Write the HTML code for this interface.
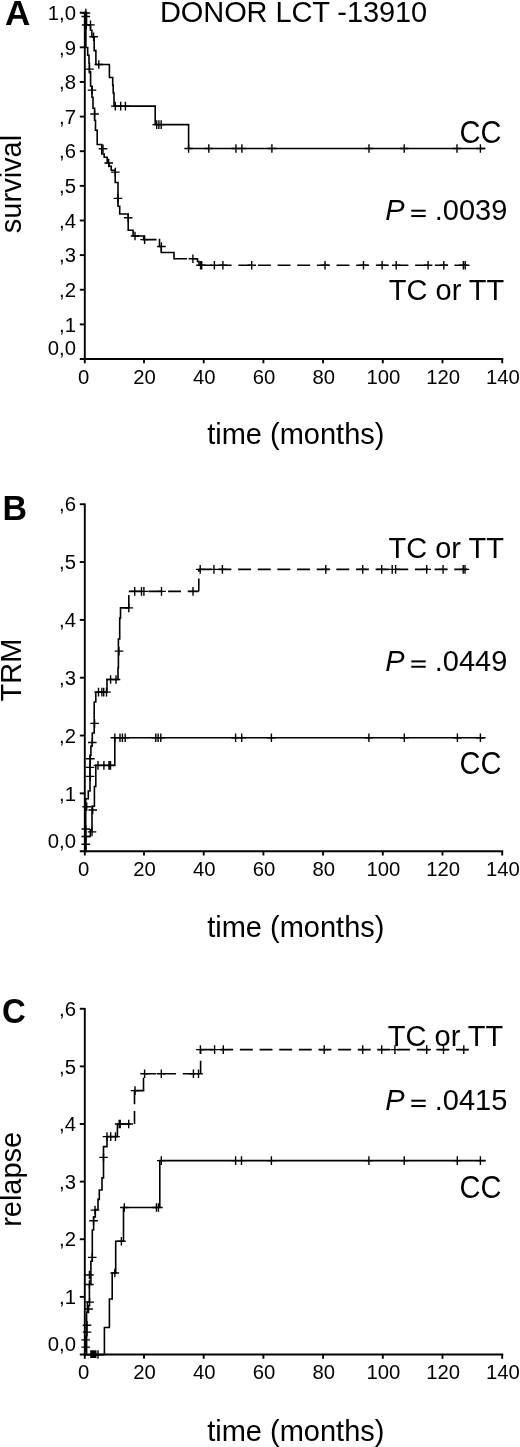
<!DOCTYPE html>
<html><head><meta charset="utf-8"><style>
html,body{margin:0;padding:0;background:#fff;width:520px;height:1447px;overflow:hidden}
svg{display:block;will-change:transform}
</style></head><body>
<svg width="520" height="1447" viewBox="0 0 520 1447">
<rect width="520" height="1447" fill="#fff"/>
<g stroke="#000" stroke-width="1.9" fill="none" stroke-linecap="butt">
<line x1="84.8" y1="12.2" x2="84.8" y2="359" />
<line x1="79.8" y1="359" x2="503.2" y2="359" />
<line x1="79.8" y1="324.37" x2="84.8" y2="324.37" />
<line x1="79.8" y1="289.74" x2="84.8" y2="289.74" />
<line x1="79.8" y1="255.11" x2="84.8" y2="255.11" />
<line x1="79.8" y1="220.48" x2="84.8" y2="220.48" />
<line x1="79.8" y1="185.85" x2="84.8" y2="185.85" />
<line x1="79.8" y1="151.22" x2="84.8" y2="151.22" />
<line x1="79.8" y1="116.59" x2="84.8" y2="116.59" />
<line x1="79.8" y1="81.96" x2="84.8" y2="81.96" />
<line x1="79.8" y1="47.33" x2="84.8" y2="47.33" />
<line x1="79.8" y1="12.7" x2="84.8" y2="12.7" />
<line x1="144" y1="359" x2="144" y2="363.3" />
<line x1="203.7" y1="359" x2="203.7" y2="363.3" />
<line x1="263.4" y1="359" x2="263.4" y2="363.3" />
<line x1="323.1" y1="359" x2="323.1" y2="363.3" />
<line x1="382.8" y1="359" x2="382.8" y2="363.3" />
<line x1="442.5" y1="359" x2="442.5" y2="363.3" />
<line x1="502.2" y1="359" x2="502.2" y2="363.3" />
<line x1="84.8" y1="359" x2="84.8" y2="363.3" />
<line x1="84.8" y1="503.42" x2="84.8" y2="851.2" />
<line x1="79.8" y1="851.2" x2="503.2" y2="851.2" />
<line x1="79.8" y1="793.37" x2="84.8" y2="793.37" />
<line x1="79.8" y1="735.54" x2="84.8" y2="735.54" />
<line x1="79.8" y1="677.71" x2="84.8" y2="677.71" />
<line x1="79.8" y1="619.88" x2="84.8" y2="619.88" />
<line x1="79.8" y1="562.05" x2="84.8" y2="562.05" />
<line x1="79.8" y1="504.22" x2="84.8" y2="504.22" />
<line x1="144" y1="851.2" x2="144" y2="855.5" />
<line x1="203.7" y1="851.2" x2="203.7" y2="855.5" />
<line x1="263.4" y1="851.2" x2="263.4" y2="855.5" />
<line x1="323.1" y1="851.2" x2="323.1" y2="855.5" />
<line x1="382.8" y1="851.2" x2="382.8" y2="855.5" />
<line x1="442.5" y1="851.2" x2="442.5" y2="855.5" />
<line x1="502.2" y1="851.2" x2="502.2" y2="855.5" />
<line x1="84.8" y1="851.2" x2="84.8" y2="855.5" />
<line x1="84.8" y1="1007.95" x2="84.8" y2="1354.5" />
<line x1="79.8" y1="1354.5" x2="503.2" y2="1354.5" />
<line x1="79.8" y1="1296.88" x2="84.8" y2="1296.88" />
<line x1="79.8" y1="1239.25" x2="84.8" y2="1239.25" />
<line x1="79.8" y1="1181.62" x2="84.8" y2="1181.62" />
<line x1="79.8" y1="1124" x2="84.8" y2="1124" />
<line x1="79.8" y1="1066.38" x2="84.8" y2="1066.38" />
<line x1="79.8" y1="1008.75" x2="84.8" y2="1008.75" />
<line x1="144" y1="1354.5" x2="144" y2="1358.8" />
<line x1="203.7" y1="1354.5" x2="203.7" y2="1358.8" />
<line x1="263.4" y1="1354.5" x2="263.4" y2="1358.8" />
<line x1="323.1" y1="1354.5" x2="323.1" y2="1358.8" />
<line x1="382.8" y1="1354.5" x2="382.8" y2="1358.8" />
<line x1="442.5" y1="1354.5" x2="442.5" y2="1358.8" />
<line x1="502.2" y1="1354.5" x2="502.2" y2="1358.8" />
<line x1="84.8" y1="1354.5" x2="84.8" y2="1358.8" />
</g>
<g stroke="#000" stroke-width="1.6" fill="none" stroke-linejoin="miter" stroke-linecap="square">
<path d="M84.7 12.65 L86.5 12.65 L86.5 24.85 L90.5 24.85 L90.5 30.25 L91.9 30.25 L91.9 36.75 L94.2 36.75 L94.2 50.65 L95.9 50.65 L95.9 64.45 L109.4 64.45 L109.4 77.55 L112.7 77.55 L112.7 85.25 L113.2 85.25 L113.2 92.95 L114 92.95 L114 106.15 L155.2 106.15 L155.2 124.65 L188.6 124.65 L188.6 148.45 L484.7 148.45"/>
<path stroke-width="1.4" stroke-linecap="butt" d="M81.5 16.45 H90.1 M85.8 12.15 V20.75 M86.2 24.85 H94.8 M90.5 20.55 V29.15 M89.3 36.75 H97.9 M93.6 32.45 V41.05 M94.5 64.45 H103.1 M98.8 60.15 V68.75 M111 106.15 H119.6 M115.3 101.85 V110.45 M116.4 106.15 H125 M120.7 101.85 V110.45 M121.1 106.15 H129.7 M125.4 101.85 V110.45 M152.4 124.65 H161 M156.7 120.35 V128.95 M154.6 124.65 H163.2 M158.9 120.35 V128.95 M156.9 124.65 H165.5 M161.2 120.35 V128.95 M184.3 148.45 H192.9 M188.6 144.15 V152.75 M204.5 148.45 H213.1 M208.8 144.15 V152.75 M231.6 148.45 H240.2 M235.9 144.15 V152.75 M237.6 148.45 H246.2 M241.9 144.15 V152.75 M267.6 148.45 H276.2 M271.9 144.15 V152.75 M364.7 148.45 H373.3 M369 144.15 V152.75 M399.9 148.45 H408.5 M404.2 144.15 V152.75 M452.7 148.45 H461.3 M457 144.15 V152.75 M476.1 148.45 H484.7 M480.4 144.15 V152.75"/>
<path d="M84.7 851.45 L85.7 851.45 L85.7 836.55 L90.3 836.55 L90.3 829.85 L92 829.85 L92 806.25 L94.4 806.25 L94.4 786.45 L95.8 786.45 L95.8 765.35 L114.8 765.35 L114.8 737.75 L484.8 737.75"/>
<path stroke-width="1.4" stroke-linecap="butt" d="M87.7 831.85 H96.3 M92 827.55 V836.15 M88.4 809.95 H97 M92.7 805.65 V814.25 M93.7 765.35 H102.3 M98 761.05 V769.65 M99.6 765.35 H108.2 M103.9 761.05 V769.65 M104.7 765.35 H113.3 M109 761.05 V769.65 M106.2 765.35 H114.8 M110.5 761.05 V769.65 M110.5 737.75 H119.1 M114.8 733.45 V742.05 M115.7 737.75 H124.3 M120 733.45 V742.05 M118.1 737.75 H126.7 M122.4 733.45 V742.05 M120.9 737.75 H129.5 M125.2 733.45 V742.05 M151.5 737.75 H160.1 M155.8 733.45 V742.05 M153.8 737.75 H162.4 M158.1 733.45 V742.05 M156.5 737.75 H165.1 M160.8 733.45 V742.05 M231.3 737.75 H239.9 M235.6 733.45 V742.05 M237.4 737.75 H246 M241.7 733.45 V742.05 M267.1 737.75 H275.7 M271.4 733.45 V742.05 M364.6 737.75 H373.2 M368.9 733.45 V742.05 M400 737.75 H408.6 M404.3 733.45 V742.05 M453.1 737.75 H461.7 M457.4 733.45 V742.05 M476.1 737.75 H484.7 M480.4 733.45 V742.05"/>
<path d="M84.7 1354.75 L104.4 1354.75 L104.4 1327.55 L109.4 1327.55 L109.4 1299.05 L112.2 1299.05 L112.2 1272.95 L115.7 1272.95 L115.7 1241.25 L123.5 1241.25 L123.5 1207.55 L159.8 1207.55 L159.8 1160.65 L485 1160.65"/>
<path stroke-width="1.4" stroke-linecap="butt" d="M93.7 1354.55 H102.3 M98 1350.25 V1358.85 M110.5 1272.95 H119.1 M114.8 1268.65 V1277.25 M117.1 1241.25 H125.7 M121.4 1236.95 V1245.55 M120 1207.55 H128.6 M124.3 1203.25 V1211.85 M152.1 1207.55 H160.7 M156.4 1203.25 V1211.85 M154.1 1207.55 H162.7 M158.4 1203.25 V1211.85 M157 1160.65 H165.6 M161.3 1156.35 V1164.95 M231.3 1160.65 H239.9 M235.6 1156.35 V1164.95 M237.2 1160.65 H245.8 M241.5 1156.35 V1164.95 M267.1 1160.65 H275.7 M271.4 1156.35 V1164.95 M364.6 1160.65 H373.2 M368.9 1156.35 V1164.95 M399.9 1160.65 H408.5 M404.2 1156.35 V1164.95 M453 1160.65 H461.6 M457.3 1156.35 V1164.95 M476.1 1160.65 H484.7 M480.4 1156.35 V1164.95"/>
<path d="M84.7 12.65 L85.9 12.65 M85.9 12.65 L85.9 47.45 M85.9 47.45 L87.7 47.45 M87.7 47.45 L87.7 55.25 M87.7 55.25 L89 55.25 M89 55.25 L89 63.25 M89 63.25 L89.4 63.25 M89.4 63.25 L89.4 71.75 M89.4 71.75 L90.6 71.75 M90.6 71.75 L90.6 86.25 M90.6 86.25 L92 86.25 M92 86.25 L92 97.25 M92 97.25 L93 97.25 M93 97.25 L93 108.25 M93 108.25 L94.6 108.25 M94.6 108.25 L94.6 120.25 M94.6 120.25 L95.5 120.25 M95.5 120.25 L95.5 130.25 M95.5 130.25 L97.2 130.25 M97.2 130.25 L97.2 144.45 M97.2 144.45 L101.8 144.45 M101.8 144.45 L101.8 154.05 M101.8 154.05 L104.2 154.05 M104.2 154.05 L104.2 157.25 M104.2 157.25 L107.2 157.25 M107.2 157.25 L107.2 162.95 M107.2 162.95 L109.2 162.95 M109.2 162.95 L109.2 166.25 M109.2 166.25 L111.2 166.25 M111.2 166.25 L111.2 170.25 M111.2 170.25 L115.2 170.25 M115.2 170.25 L115.2 182.55 M115.2 182.55 L118 182.55 M118 182.55 L118 206.25 M118 206.25 L119.7 206.25 M119.7 206.25 L119.7 213.95 M119.7 213.95 L128.2 213.95 M128.2 213.95 L128.2 230.25 M128.2 230.25 L133.1 230.25 M133.1 230.25 L133.1 236.05 M133.1 236.05 L143.7 236.05 M143.7 236.05 L143.7 239.65 M159.5 239.65 L159.5 246.45 M159.5 246.45 L161.2 246.45 M161.2 246.45 L161.2 252.45 M161.2 252.45 L174 252.45 M174 252.45 L174 258.75 M197.5 258.75 L197.5 261.45 M197.5 261.45 L199 261.45 M199 261.45 L199 265.25"/>
<path d="M143.7 239.65 L159.5 239.65 M174 258.75 L197.5 258.75 M199 265.25 L469.5 265.25" stroke-linecap="butt" stroke-dasharray="12.9 6.75"/>
<path stroke-width="1.4" stroke-linecap="butt" d="M81.6 12.95 H90.2 M85.9 8.65 V17.25 M81.9 25.05 H90.5 M86.2 20.75 V29.35 M85.1 69.15 H93.7 M89.4 64.85 V73.45 M87.7 90.15 H96.3 M92 85.85 V94.45 M90.3 113.95 H98.9 M94.6 109.65 V118.25 M98.7 148.75 H107.3 M103 144.45 V153.05 M104.4 162.95 H113 M108.7 158.65 V167.25 M111 172.15 H119.6 M115.3 167.85 V176.45 M113.7 198.35 H122.3 M118 194.05 V202.65 M123.9 217.75 H132.5 M128.2 213.45 V222.05 M130.7 236.05 H139.3 M135 231.75 V240.35 M140.3 239.65 H148.9 M144.6 235.35 V243.95 M157.1 246.45 H165.7 M161.4 242.15 V250.75 M188.6 258.75 H197.2 M192.9 254.45 V263.05 M196.2 265.25 H204.8 M200.5 260.95 V269.55 M197.4 265.25 H206 M201.7 260.95 V269.55 M210.1 265.25 H218.7 M214.4 260.95 V269.55 M218.6 265.25 H227.2 M222.9 260.95 V269.55 M247.4 265.25 H256 M251.7 260.95 V269.55 M320.7 265.25 H329.3 M325 260.95 V269.55 M359.2 265.25 H367.8 M363.5 260.95 V269.55 M377.8 265.25 H386.4 M382.1 260.95 V269.55 M391.9 265.25 H400.5 M396.2 260.95 V269.55 M423.8 265.25 H432.4 M428.1 260.95 V269.55 M439.5 265.25 H448.1 M443.8 260.95 V269.55 M459.1 265.25 H467.7 M463.4 260.95 V269.55 M460.9 265.25 H469.5 M465.2 260.95 V269.55"/>
<path d="M84.7 851.45 L85.7 851.45 M85.7 851.45 L85.7 798.75 M85.7 798.75 L88.3 798.75 M88.3 798.75 L88.3 791.05 M88.3 791.05 L90 791.05 M90 791.05 L90 755.25 M90 755.25 L90.9 755.25 M90.9 755.25 L90.9 746.05 M90.9 746.05 L92.3 746.05 M92.3 746.05 L92.3 732.95 M92.3 732.95 L94.2 732.95 M94.2 732.95 L94.2 701.95 M94.2 701.95 L95.8 701.95 M95.8 701.95 L95.8 692.15 M95.8 692.15 L107 692.15 M107 692.15 L107 679.55 M107 679.55 L118 679.55 M118 679.55 L118 667.75 M118 667.75 L118.4 667.75 M118.4 667.75 L118.4 638.95 M118.4 638.95 L119.7 638.95 M119.7 638.95 L119.7 618.15 M119.7 618.15 L120.5 618.15 M120.5 618.15 L120.5 607.85 M120.5 607.85 L128.8 607.85"/>
<path d="M128.8 607.85 L128.8 591.35 M128.8 591.35 L198.8 591.35 M198.8 591.35 L198.8 569.35 M198.8 569.35 L469.5 569.35" stroke-linecap="butt" stroke-dasharray="12.9 6.75"/>
<path stroke-width="1.4" stroke-linecap="butt" d="M81.5 844.25 H90.1 M85.8 839.95 V848.55 M81.5 836.55 H90.1 M85.8 832.25 V840.85 M81.5 829.05 H90.1 M85.8 824.75 V833.35 M82.4 806.75 H91 M86.7 802.45 V811.05 M85.7 776.35 H94.3 M90 772.05 V780.65 M85.7 767.35 H94.3 M90 763.05 V771.65 M86.1 758.75 H94.7 M90.4 754.45 V763.05 M88 742.55 H96.6 M92.3 738.25 V746.85 M90.3 723.35 H98.9 M94.6 719.05 V727.65 M94.2 692.15 H102.8 M98.5 687.85 V696.45 M97.6 692.15 H106.2 M101.9 687.85 V696.45 M99.4 692.15 H108 M103.7 687.85 V696.45 M102.2 692.15 H110.8 M106.5 687.85 V696.45 M106.3 679.55 H114.9 M110.6 675.25 V683.85 M111.7 679.55 H120.3 M116 675.25 V683.85 M114.7 651.15 H123.3 M119 646.85 V655.45 M124.5 607.85 H133.1 M128.8 603.55 V612.15 M130.4 591.35 H139 M134.7 587.05 V595.65 M137.2 591.35 H145.8 M141.5 587.05 V595.65 M139.6 591.35 H148.2 M143.9 587.05 V595.65 M157.2 591.35 H165.8 M161.5 587.05 V595.65 M188.7 591.35 H197.3 M193 587.05 V595.65 M195.9 569.35 H204.5 M200.2 565.05 V573.65 M209.6 569.35 H218.2 M213.9 565.05 V573.65 M218.1 569.35 H226.7 M222.4 565.05 V573.65 M321.5 569.35 H330.1 M325.8 565.05 V573.65 M358.4 569.35 H367 M362.7 565.05 V573.65 M377.4 569.35 H386 M381.7 565.05 V573.65 M387.9 569.35 H396.5 M392.2 565.05 V573.65 M391.3 569.35 H399.9 M395.6 565.05 V573.65 M422.4 569.35 H431 M426.7 565.05 V573.65 M438.8 569.35 H447.4 M443.1 565.05 V573.65 M458.9 569.35 H467.5 M463.2 565.05 V573.65 M460.7 569.35 H469.3 M465 565.05 V573.65"/>
<path d="M84.7 1354.75 L86.6 1354.75 M86.6 1354.75 L86.6 1312.25 M86.6 1312.25 L87.4 1312.25 M87.4 1312.25 L87.4 1302.15 M87.4 1302.15 L89.4 1302.15 M89.4 1302.15 L89.4 1284.55 M89.4 1284.55 L90.9 1284.55 M90.9 1284.55 L90.9 1261.25 M90.9 1261.25 L92.3 1261.25 M92.3 1261.25 L92.3 1230.05 M92.3 1230.05 L93.6 1230.05 M93.6 1230.05 L93.6 1216.85 M93.6 1216.85 L95.3 1216.85 M95.3 1216.85 L95.3 1209.45 M95.3 1209.45 L98 1209.45 M98 1209.45 L98 1199.35 M98 1199.35 L99.3 1199.35 M99.3 1199.35 L99.3 1189.95 M99.3 1189.95 L102 1189.95 M102 1189.95 L102 1177.85 M102 1177.85 L103.5 1177.85 M103.5 1177.85 L103.5 1146.65 M103.5 1146.65 L107 1146.65 M107 1146.65 L107 1136.65 M107 1136.65 L117.4 1136.65 M117.4 1136.65 L117.4 1123.95 M134.5 1090.65 L143.5 1090.65"/>
<path d="M117.4 1123.95 L134.5 1123.95 M134.5 1123.95 L134.5 1090.65 M143.5 1090.65 L143.5 1073.75 M143.5 1073.75 L200.6 1073.75 M200.6 1073.75 L200.6 1049.65 M200.6 1049.65 L469.5 1049.65" stroke-linecap="butt" stroke-dasharray="12.9 6.75"/>
<path stroke-width="1.4" stroke-linecap="butt" d="M81.4 1347.15 H90 M85.7 1342.85 V1351.45 M81.4 1339.85 H90 M85.7 1335.55 V1344.15 M82.7 1332.15 H91.3 M87 1327.85 V1336.45 M82.7 1325.25 H91.3 M87 1320.95 V1329.55 M84.3 1309.05 H92.9 M88.6 1304.75 V1313.35 M85.3 1302.15 H93.9 M89.6 1297.85 V1306.45 M85.1 1284.55 H93.7 M89.4 1280.25 V1288.85 M85.1 1275.05 H93.7 M89.4 1270.75 V1279.35 M87.9 1257.35 H96.5 M92.2 1253.05 V1261.65 M89.3 1220.75 H97.9 M93.6 1216.45 V1225.05 M90.7 1210.15 H99.3 M95 1205.85 V1214.45 M99.2 1157.35 H107.8 M103.5 1153.05 V1161.65 M102.7 1136.65 H111.3 M107 1132.35 V1140.95 M106.4 1136.65 H115 M110.7 1132.35 V1140.95 M111.2 1136.65 H119.8 M115.5 1132.35 V1140.95 M114.9 1123.95 H123.5 M119.2 1119.65 V1128.25 M115.9 1123.95 H124.5 M120.2 1119.65 V1128.25 M124.4 1123.95 H133 M128.7 1119.65 V1128.25 M130.7 1090.65 H139.3 M135 1086.35 V1094.95 M140.3 1073.75 H148.9 M144.6 1069.45 V1078.05 M157 1073.75 H165.6 M161.3 1069.45 V1078.05 M189.1 1073.75 H197.7 M193.4 1069.45 V1078.05 M194.2 1073.75 H202.8 M198.5 1069.45 V1078.05 M196.1 1049.65 H204.7 M200.4 1045.35 V1053.95 M210.3 1049.65 H218.9 M214.6 1045.35 V1053.95 M219 1049.65 H227.6 M223.3 1045.35 V1053.95 M319.9 1049.65 H328.5 M324.2 1045.35 V1053.95 M358.4 1049.65 H367 M362.7 1045.35 V1053.95 M377.4 1049.65 H386 M381.7 1045.35 V1053.95 M390.6 1049.65 H399.2 M394.9 1045.35 V1053.95 M422.4 1049.65 H431 M426.7 1045.35 V1053.95 M439.2 1049.65 H447.8 M443.5 1045.35 V1053.95 M459.5 1049.65 H468.1 M463.8 1045.35 V1053.95"/>
<rect x="90.2" y="1350.3" width="6.3" height="7.7" fill="#000" stroke="none"/>
</g>
<g font-family='"Liberation Sans", sans-serif' fill="#000">
<text transform="translate(5 24.7)" font-size="35" font-weight="bold">A</text>
<text transform="translate(2.6 519.8) scale(0.97 1)" font-size="35" font-weight="bold">B</text>
<text transform="translate(2 1022.6) scale(0.94 1)" font-size="35" font-weight="bold">C</text>
<text x="160" y="21.5" font-size="29" textLength="267.2">DONOR LCT -13910</text>
<text x="76" y="19.9" font-size="20.3" text-anchor="end">1,0</text>
<text x="76" y="54.53" font-size="20.3" text-anchor="end">,9</text>
<text x="76" y="89.16" font-size="20.3" text-anchor="end">,8</text>
<text x="76" y="123.79" font-size="20.3" text-anchor="end">,7</text>
<text x="76" y="158.42" font-size="20.3" text-anchor="end">,6</text>
<text x="76" y="193.05" font-size="20.3" text-anchor="end">,5</text>
<text x="76" y="227.68" font-size="20.3" text-anchor="end">,4</text>
<text x="76" y="262.31" font-size="20.3" text-anchor="end">,3</text>
<text x="76" y="296.94" font-size="20.3" text-anchor="end">,2</text>
<text x="76" y="331.57" font-size="20.3" text-anchor="end">,1</text>
<text x="76" y="354.8" font-size="20.3" text-anchor="end">0,0</text>
<text x="76" y="800.57" font-size="20.3" text-anchor="end">,1</text>
<text x="76" y="742.74" font-size="20.3" text-anchor="end">,2</text>
<text x="76" y="684.91" font-size="20.3" text-anchor="end">,3</text>
<text x="76" y="627.08" font-size="20.3" text-anchor="end">,4</text>
<text x="76" y="569.25" font-size="20.3" text-anchor="end">,5</text>
<text x="76" y="511.42" font-size="20.3" text-anchor="end">,6</text>
<text x="76" y="847.5" font-size="20.3" text-anchor="end">0,0</text>
<text x="76" y="1304.08" font-size="20.3" text-anchor="end">,1</text>
<text x="76" y="1246.45" font-size="20.3" text-anchor="end">,2</text>
<text x="76" y="1188.83" font-size="20.3" text-anchor="end">,3</text>
<text x="76" y="1131.2" font-size="20.3" text-anchor="end">,4</text>
<text x="76" y="1073.58" font-size="20.3" text-anchor="end">,5</text>
<text x="76" y="1015.95" font-size="20.3" text-anchor="end">,6</text>
<text x="76" y="1351" font-size="20.3" text-anchor="end">0,0</text>
<text x="83.6" y="383.5" font-size="20.3" text-anchor="middle">0</text>
<text x="144.6" y="383.5" font-size="20.3" text-anchor="middle">20</text>
<text x="204.3" y="383.5" font-size="20.3" text-anchor="middle">40</text>
<text x="264" y="383.5" font-size="20.3" text-anchor="middle">60</text>
<text x="323.7" y="383.5" font-size="20.3" text-anchor="middle">80</text>
<text x="383.4" y="383.5" font-size="20.3" text-anchor="middle">100</text>
<text x="443.1" y="383.5" font-size="20.3" text-anchor="middle">120</text>
<text x="502.8" y="383.5" font-size="20.3" text-anchor="middle">140</text>
<text x="295.8" y="444" font-size="29.0" text-anchor="middle">time (months)</text>
<text x="83.6" y="875.7" font-size="20.3" text-anchor="middle">0</text>
<text x="144.6" y="875.7" font-size="20.3" text-anchor="middle">20</text>
<text x="204.3" y="875.7" font-size="20.3" text-anchor="middle">40</text>
<text x="264" y="875.7" font-size="20.3" text-anchor="middle">60</text>
<text x="323.7" y="875.7" font-size="20.3" text-anchor="middle">80</text>
<text x="383.4" y="875.7" font-size="20.3" text-anchor="middle">100</text>
<text x="443.1" y="875.7" font-size="20.3" text-anchor="middle">120</text>
<text x="502.8" y="875.7" font-size="20.3" text-anchor="middle">140</text>
<text x="295.8" y="936.7" font-size="29.0" text-anchor="middle">time (months)</text>
<text x="83.6" y="1379" font-size="20.3" text-anchor="middle">0</text>
<text x="144.6" y="1379" font-size="20.3" text-anchor="middle">20</text>
<text x="204.3" y="1379" font-size="20.3" text-anchor="middle">40</text>
<text x="264" y="1379" font-size="20.3" text-anchor="middle">60</text>
<text x="323.7" y="1379" font-size="20.3" text-anchor="middle">80</text>
<text x="383.4" y="1379" font-size="20.3" text-anchor="middle">100</text>
<text x="443.1" y="1379" font-size="20.3" text-anchor="middle">120</text>
<text x="502.8" y="1379" font-size="20.3" text-anchor="middle">140</text>
<text x="295.8" y="1440.5" font-size="29.0" text-anchor="middle">time (months)</text>
<text transform="translate(21.2 184) rotate(-90)" font-size="29.0" text-anchor="middle">survival</text>
<text transform="translate(20.8 670) rotate(-90)" font-size="29.0" text-anchor="middle">TRM</text>
<text transform="translate(21.3 1179.3) rotate(-90)" font-size="29.0" text-anchor="middle">relapse</text>
<text transform="translate(459.6 142.6) scale(1 1.09)" font-size="29" >CC</text>
<text transform="translate(388.8 299.8) scale(1 1.04)" font-size="29" >TC or TT</text>
<text transform="translate(459.6 774.2) scale(1 1.09)" font-size="29" >CC</text>
<text transform="translate(388.5 558.4) scale(1 1.04)" font-size="29" >TC or TT</text>
<text transform="translate(459.6 1197.9) scale(1 1.09)" font-size="29" >CC</text>
<text transform="translate(387.8 1045.9) scale(1 1.04)" font-size="29" >TC or TT</text>
<text transform="translate(385.2 219.9) scale(1 1.04)" font-size="29" font-style="italic">P</text>
<text transform="translate(434.8 219.9) scale(1 1.04)" font-size="29" >.0039</text>
<rect x="411.3" y="209.7" width="14.4" height="2.0"/>
<rect x="411.3" y="215.05" width="14.4" height="2.0"/>
<text transform="translate(385.2 670.6) scale(1 1.04)" font-size="29" font-style="italic">P</text>
<text transform="translate(434.8 670.6) scale(1 1.04)" font-size="29" >.0449</text>
<rect x="411.3" y="660.4" width="14.4" height="2.0"/>
<rect x="411.3" y="665.75" width="14.4" height="2.0"/>
<text transform="translate(385.2 1109.9) scale(1 1.04)" font-size="29" font-style="italic">P</text>
<text transform="translate(434.8 1109.9) scale(1 1.04)" font-size="29" >.0415</text>
<rect x="411.3" y="1099.7" width="14.4" height="2.0"/>
<rect x="411.3" y="1105.05" width="14.4" height="2.0"/>
</g>
</svg>
</body></html>
